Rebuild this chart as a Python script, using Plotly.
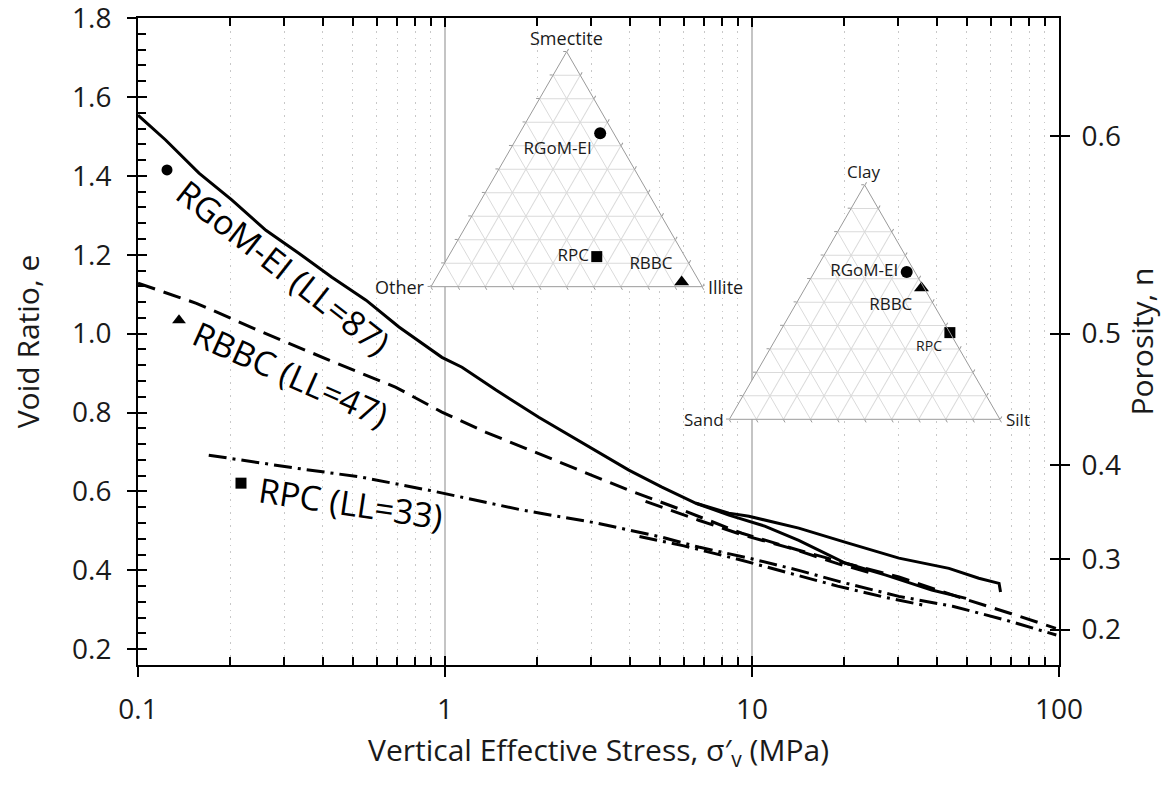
import numpy as np
import plotly.graph_objects as go

# ---------------- data ----------------
# RGoM-EI (LL=87) - solid
rgom1_sigma = [0.1, 0.123, 0.158, 0.202, 0.261, 0.334, 0.428, 0.553, 0.708, 0.977, 1.136, 1.466,
               2.02, 3.01, 3.97, 5.09, 6.57, 8.41, 11.0, 14.2, 20.2, 27.3, 38.5, 49.8]
rgom1_e = [1.554, 1.491, 1.407, 1.339, 1.262, 1.204, 1.143, 1.085, 1.017, 0.940, 0.915, 0.857,
           0.788, 0.710, 0.654, 0.611, 0.570, 0.540, 0.512, 0.476, 0.418, 0.388, 0.350, 0.329]
rgom2_sigma = [6.57, 8.41, 9.77, 14.2, 20.2, 30.1, 43.8, 54.8, 63.8, 64.5]
rgom2_e = [0.570, 0.545, 0.537, 0.507, 0.471, 0.431, 0.405, 0.380, 0.367, 0.345]

# RBBC (LL=47) - dashed
rbbc1_sigma = [0.1, 0.155, 0.254, 0.419, 0.692, 0.977, 1.36, 1.88, 2.73, 3.97, 5.92, 9.27,
               14.2, 20.2, 30.1, 47.2, 70.0, 97.7]
rbbc1_e = [1.128, 1.077, 1.004, 0.933, 0.864, 0.801, 0.750, 0.705, 0.654, 0.603, 0.553, 0.494,
           0.451, 0.418, 0.383, 0.332, 0.290, 0.253]
rbbc2_sigma = [4.5, 6.7, 9.3, 13.5, 19.0, 24.0]
rbbc2_e = [0.575, 0.527, 0.490, 0.455, 0.417, 0.395]

# RPC (LL=33) - dash-dot
rpc1_sigma = [0.17, 0.327, 0.537, 0.887, 1.78, 3.11, 5.09, 6.7, 9.77, 14.2, 19.6, 30.1, 45.0, 67.0, 98.0]
rpc1_e = [0.692, 0.659, 0.636, 0.603, 0.553, 0.520, 0.484, 0.459, 0.431, 0.400, 0.370, 0.334, 0.309,
          0.274, 0.236]
rpc2_sigma = [4.3, 6.0, 9.0, 13.0, 19.0, 27.0, 36.0]
rpc2_e = [0.486, 0.462, 0.428, 0.394, 0.360, 0.332, 0.312]

# curve labels
label_names = ["RGoM-EI (LL=87)", "RBBC (LL=47)", "RPC (LL=33)"]
label_symbols = ["circle", "triangle-up", "square"]
label_marker_sigma = [0.1243, 0.136, 0.2165]
label_marker_e = [1.415, 1.034, 0.621]
label_text_sigma = [0.297, 0.315, 0.494]
label_text_e = [1.169, 0.897, 0.570]
label_angles = [38, 24, 8.5]

# axis ticks
void_ticks = [0.2, 0.4, 0.6, 0.8, 1.0, 1.2, 1.4, 1.6, 1.8]
porosity_ticks = [0.2, 0.3, 0.4, 0.5, 0.6]

# ternary: mineralogy (Smectite, Other, Illite)
min_names = ["RGoM-EI", "RPC", "RBBC"]
min_smectite = [0.653, 0.128, 0.020]
min_other = [0.050, 0.325, 0.066]
min_illite = [0.297, 0.547, 0.914]
# ternary: grain size (Clay, Sand, Silt)
gs_names = ["RGoM-EI", "RBBC", "RPC"]
gs_clay = [0.629, 0.560, 0.370]
gs_sand = [0.030, 0.010, 0.000]
gs_silt = [0.341, 0.430, 0.630]

FONT = "Open Sans"
INK = "#1a1a1a"

fig = go.Figure()


def curve(x, y, dash, width=3.0):
    fig.add_trace(go.Scatter(x=x, y=y, mode="lines",
                             line=dict(color="black", width=width, dash=dash),
                             showlegend=False, hoverinfo="skip"))


curve(rgom1_sigma, rgom1_e, "solid", 3)
curve(rgom2_sigma, rgom2_e, "solid", 3)
curve(rbbc1_sigma, rbbc1_e, "18px,9px", 3)
curve(rbbc2_sigma, rbbc2_e, "18px,9px", 3)
curve(rpc1_sigma, rpc1_e, "18px,6px,3px,6px", 3)
curve(rpc2_sigma, rpc2_e, "18px,6px,3px,6px", 3)

fig.add_trace(go.Scatter(x=label_marker_sigma, y=label_marker_e, mode="markers",
                         marker=dict(symbol=label_symbols, size=[11, 12, 11], color="black",
                                     opacity=1, line=dict(width=0)),
                         showlegend=False, hoverinfo="skip"))

for name, xs, ys, ang in zip(label_names, label_text_sigma, label_text_e, label_angles):
    fig.add_annotation(x=np.log10(xs), y=ys, xref="x", yref="y", text=name, showarrow=False,
                       textangle=ang, xanchor="center", yanchor="middle",
                       font=dict(family=FONT, size=34, color="black"))

# dummy traces to activate overlay axes
fig.add_trace(go.Scatter(x=[], y=[], xaxis="x2", yaxis="y3", showlegend=False, hoverinfo="skip"))
fig.add_trace(go.Scatter(x=[], y=[], xaxis="x", yaxis="y2", showlegend=False, hoverinfo="skip"))
fig.add_trace(go.Scatter(x=[], y=[], xaxis="x", yaxis="y4", showlegend=False, hoverinfo="skip"))

# ternary insets
fig.add_trace(go.Scatterternary(a=min_smectite, b=min_other, c=min_illite, subplot="ternary",
                                mode="markers+text", text=min_names,
                                textposition=["bottom left", "middle left", "top left"],
                                textfont=dict(family=FONT, size=17, color=INK),
                                marker=dict(symbol=["circle", "square", "triangle-up"], size=[12, 11, 13],
                                            color="black", opacity=1, line=dict(width=0)),
                                showlegend=False, hoverinfo="skip", cliponaxis=False))
fig.add_trace(go.Scatterternary(a=gs_clay, b=gs_sand, c=gs_silt, subplot="ternary2",
                                mode="markers+text", text=gs_names,
                                textposition=["middle left", "bottom left", "bottom left"],
                                textfont=dict(family=FONT, size=[17, 17, 14], color=INK),
                                marker=dict(symbol=["circle", "triangle-up", "square"], size=[12, 13, 11],
                                            color="black", opacity=1, line=dict(width=0)),
                                showlegend=False, hoverinfo="skip", cliponaxis=False))

tern_axis = dict(showticklabels=False, ticks="outside", ticklen=3, tickcolor="#9a9a9a",
                 linecolor="#9a9a9a", linewidth=1, showgrid=True, gridcolor="#dadada", gridwidth=1,
                 dtick=0.1, title=dict(text=""))

L, R, T, B = 138, 105, 18, 135
W, H = 1164, 800
PW, PH = W - L - R, H - T - B


def px(x):
    return (x - L) / PW


def py(y):
    return (H - B - y) / PH


fig.update_layout(
    ternary=dict(domain=dict(x=[px(431), px(702.3)], y=[py(286.7), py(51.7)]), bgcolor="white", sum=1,
                 aaxis=tern_axis, baxis=tern_axis, caxis=tern_axis),
    ternary2=dict(domain=dict(x=[px(729.3), px(1000)], y=[py(419.3), py(185)]), bgcolor="white", sum=1,
                  aaxis=tern_axis, baxis=tern_axis, caxis=tern_axis),
)

# ternary corner titles
tern_titles = [
    ("Smectite", 566, 38, "center", 18), ("Other", 427, 287, "right", 18), ("Illite", 706, 287, "left", 18),
    ("Clay", 863, 172, "center", 17), ("Sand", 726, 419, "right", 17), ("Silt", 1004, 419, "left", 17),
]
for txt, x, y, xa, fs in tern_titles:
    fig.add_annotation(x=px(x), y=py(y), xref="paper", yref="paper", text=txt, showarrow=False,
                       xanchor=xa, yanchor="middle", font=dict(family=FONT, size=fs, color=INK))

e_ticks = [n / (1 - n) for n in porosity_ticks]
yr = [0.16, 1.8003]

fig.update_layout(
    template="none",
    width=W, height=H,
    margin=dict(l=L, r=R, t=T, b=B, pad=0),
    paper_bgcolor="white", plot_bgcolor="white",
    font=dict(family=FONT, color=INK),
    showlegend=False,
    xaxis=dict(type="log", range=[-1, 2], showline=True, linecolor="black", linewidth=2,
               ticks="outside", ticklen=10, tickwidth=2, tickcolor="black",
               tickvals=[0.1, 1, 10, 100], ticktext=["0.1", "1", "10", "100"],
               tickfont=dict(size=28, color=INK), ticklabelstandoff=8, ticklabeloverflow="allow",
               showgrid=True, gridcolor="#c4c4c4", gridwidth=1.5,
               minor=dict(showgrid=True, gridcolor="#c8c8c8", griddash="1.5px,5px", gridwidth=1,
                          ticks="", dtick="D1"),
               zeroline=False, mirror=True, automargin=False,
               title=dict(text="Vertical Effective Stress, σ′<sub>v</sub> (MPa)", standoff=14,
                          font=dict(size=30, color=INK))),
    xaxis2=dict(type="log", range=[-1, 2], overlaying="x", anchor="y", side="bottom",
                showline=True, linecolor="black", linewidth=2, mirror="ticks",
                ticks="inside", ticklen=9, tickwidth=2, tickcolor="black",
                tickvals=[0.1, 1, 10, 100], showticklabels=False, showgrid=False, zeroline=False,
                minor=dict(ticks="inside", ticklen=8, tickwidth=1.5, tickcolor="black", dtick="D1",
                           showgrid=False),
                automargin=False),
    yaxis=dict(range=yr, showline=True, linecolor="black", linewidth=2, side="left",
               ticks="outside", ticklen=9, tickwidth=2, tickcolor="black",
               tickvals=void_ticks, ticktext=[f"{v:.1f}" for v in void_ticks],
               tickfont=dict(size=28, color=INK), ticklabelstandoff=10, ticklabeloverflow="allow",
               showgrid=False, zeroline=False, mirror=False, automargin=False,
               title=dict(text="Void Ratio, e", standoff=24, font=dict(size=30, color=INK))),
    yaxis3=dict(range=yr, overlaying="y", anchor="x", side="left", showline=False,
                ticks="inside", ticklen=9, tickwidth=2, tickcolor="black",
                tickvals=void_ticks, showticklabels=False, showgrid=False, zeroline=False,
                minor=dict(ticks="inside", ticklen=8, tickwidth=1.5, tickcolor="black",
                           tick0=0.2, dtick=0.04, showgrid=False),
                automargin=False),
    yaxis2=dict(range=yr, overlaying="y", anchor="x", side="right", showline=True, linecolor="black",
                linewidth=2, ticks="outside", ticklen=9, tickwidth=2, tickcolor="black",
                tickvals=e_ticks, ticktext=[f"{n:.1f}" for n in porosity_ticks],
                tickfont=dict(size=28, color=INK), ticklabelstandoff=6, ticklabeloverflow="allow",
                showgrid=False, zeroline=False, automargin=False,
                title=dict(text="Porosity, n", standoff=4, font=dict(size=30, color=INK))),
    yaxis4=dict(range=yr, overlaying="y", anchor="x", side="right", showline=False,
                ticks="inside", ticklen=9, tickwidth=2, tickcolor="black",
                tickvals=e_ticks, showticklabels=False, showgrid=False, zeroline=False,
                automargin=False),
)

fig.write_html("out.html")
